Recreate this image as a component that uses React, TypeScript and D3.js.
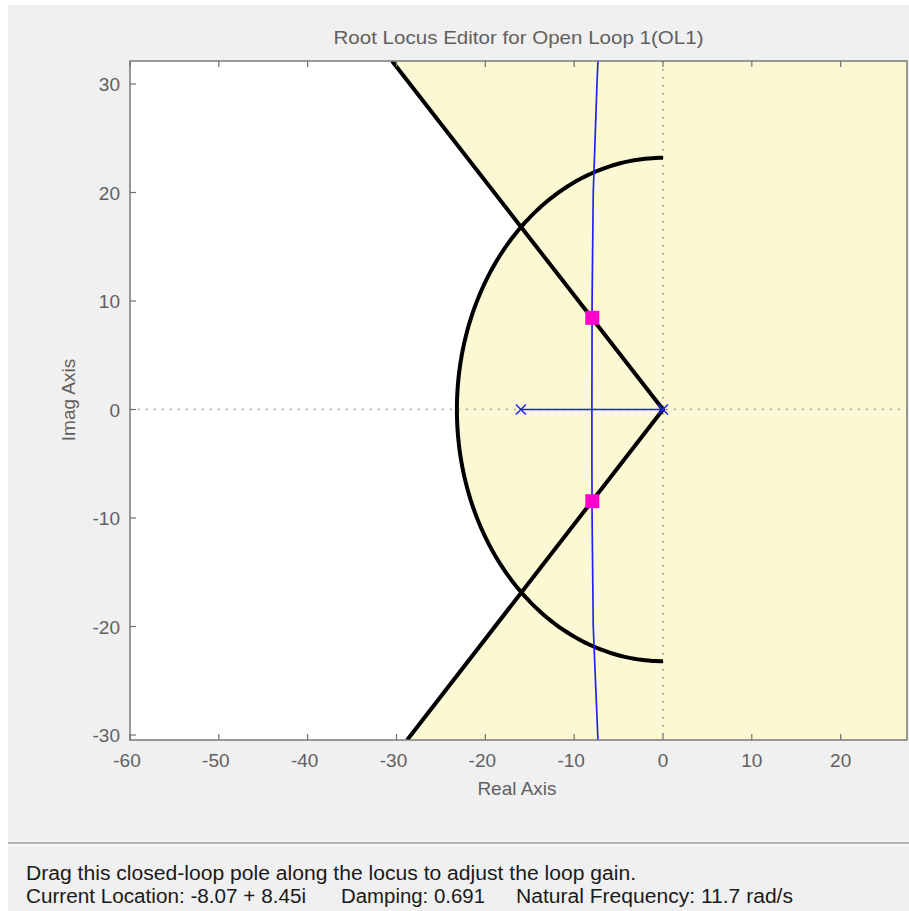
import React from "react";
import * as d3 from "d3";

// ---- data ----
const xTicks = [-60, -50, -40, -30, -20, -10, 0, 10, 20];
const yTicks = [30, 20, 10, 0, -10, -20, -30];
const xDomain = [-60, 27.47];
const yDomain = [-30.46, 32.12];
// design requirement: damping-ratio boundary (points on the locus of constant damping)
const dampingRe = [-30.5, 0, -28.8];
const dampingIm = [32.12, 0, -30.46];
// design requirement: natural frequency circle radius
const wnRadius = 23.2;
// open-loop poles
const olPolesRe = [0, -16];
// root locus branch (complex part)
const branchRe = [-7.32, -7.43, -7.85, -7.98, -8.0, -8.0, -7.98, -7.85, -7.6, -7.32];
const branchIm = [32.12, 30, 20, 10, 0, -5, -10, -20, -25, -30.46];
// current closed-loop poles
const clRe = [-8.07, -8.07];
const clIm = [8.45, -8.45];

const W = 909;
const H = 911;
const L = 130, R = 907, T = 61, B = 740;

export default function App() {
  const x = d3.scaleLinear().domain(xDomain).range([L, R]);
  const y = d3.scaleLinear().domain(yDomain).range([B, T]);
  const line = d3.line<[number, number]>().x((d) => x(d[0])).y((d) => y(d[1]));

  const dampPts: [number, number][] = dampingRe.map((r, i) => [r, dampingIm[i]]);
  const yellowPoly: [number, number][] = [
    dampPts[0],
    [xDomain[1], yDomain[1]],
    [xDomain[1], yDomain[0]],
    dampPts[2],
    dampPts[1],
  ];
  const rx = x(wnRadius) - x(0);
  const ry = y(0) - y(wnRadius);
  const arcPts: [number, number][] = d3
    .range(90, 270.01, 1)
    .map((a) => [wnRadius * Math.cos((a * Math.PI) / 180), wnRadius * Math.sin((a * Math.PI) / 180)]);
  const branchPts: [number, number][] = branchRe.map((r, i) => [r, branchIm[i]]);

  const tickColor = "#707070";
  const labelColor = "#606060";
  const font = "'Liberation Sans', Arial, sans-serif";
  const blue = "#2222f0";

  return (
    <div style={{ position: "absolute", left: 0, top: 0 }}>
      <svg width={W} height={H} style={{ display: "block" }}>
        <defs>
          <clipPath id="plotclip">
            <rect x={L} y={T} width={R - L} height={B - T} />
          </clipPath>
        </defs>
        <rect x={0} y={0} width={W} height={H} fill="#ffffff" />
        <rect x={8} y={5} width={W - 8} height={H - 5} fill="#f0f0f0" />
        {/* title */}
        <text x={(L + R) / 2} y={44} textAnchor="middle" fontFamily={font} fontSize={19} fill={labelColor} textLength={370} lengthAdjust="spacingAndGlyphs">
          Root Locus Editor for Open Loop 1(OL1)
        </text>
        {/* plot area */}
        <rect x={L} y={T} width={R - L} height={B - T} fill="#ffffff" />
        <g clipPath="url(#plotclip)">
          <path d={line(yellowPoly) + "Z"} fill="#fbf9d4" />
          <ellipse cx={x(0)} cy={y(0)} rx={rx} ry={ry} fill="#fbf9d4" />
          {/* dotted axes */}
          <line x1={L} x2={R} y1={y(0)} y2={y(0)} stroke="#8a8a8a" strokeWidth={1.6} strokeDasharray="1.6,6.4" />
          <line x1={x(0)} x2={x(0)} y1={T} y2={B} stroke="#8a8a8a" strokeWidth={1.6} strokeDasharray="1.6,6.4" />
          {/* design requirement lines */}
          <path d={line(dampPts) || ""} fill="none" stroke="#000" strokeWidth={4} strokeLinejoin="miter" />
          <path d={line(arcPts) || ""} fill="none" stroke="#000" strokeWidth={4} />
          {/* root locus */}
          <line x1={x(olPolesRe[1])} x2={x(olPolesRe[0])} y1={y(0)} y2={y(0)} stroke={blue} strokeWidth={1.5} />
          <path d={line(branchPts) || ""} fill="none" stroke={blue} strokeWidth={1.7} />
          {olPolesRe.map((p, i) => (
            <g key={i} transform={`translate(${x(p)},${y(0)})`} stroke={blue} strokeWidth={1.5}>
              <line x1={-5} y1={-5} x2={5} y2={5} />
              <line x1={-5} y1={5} x2={5} y2={-5} />
            </g>
          ))}
          {clRe.map((r, i) => (
            <rect key={i} x={x(r) - 6} y={y(clIm[i]) - 7} width={14} height={14} fill="#ff00cc" />
          ))}
        </g>
        {/* frame */}
        <rect x={L} y={T} width={R - L} height={B - T} fill="none" stroke="#7a7a7a" strokeWidth={1.5} />
        {/* x ticks */}
        {xTicks.map((t) => (
          <g key={"x" + t}>
            <line x1={x(t)} x2={x(t)} y1={B} y2={B - 6} stroke={tickColor} strokeWidth={1.2} />
            <line x1={x(t)} x2={x(t)} y1={T} y2={T + 6} stroke={tickColor} strokeWidth={1.2} />
            <text x={x(t) - (t < 0 ? 3 : 0)} y={767} textAnchor="middle" fontFamily={font} fontSize={19} fill={labelColor}>
              {t}
            </text>
          </g>
        ))}
        {yTicks.map((t) => (
          <g key={"y" + t}>
            <line x1={L} x2={L + 6} y1={y(t)} y2={y(t)} stroke={tickColor} strokeWidth={1.2} />
            <text x={120} y={y(t) + 7} textAnchor="end" fontFamily={font} fontSize={19} fill={labelColor}>
              {t}
            </text>
          </g>
        ))}
        <text x={517} y={795} textAnchor="middle" fontFamily={font} fontSize={19} fill={labelColor}>
          Real Axis
        </text>
        <text transform={`translate(75,400) rotate(-90)`} textAnchor="middle" fontFamily={font} fontSize={19} fill={labelColor}>
          Imag Axis
        </text>
        {/* status panel */}
        <line x1={8} x2={W} y1={843} y2={843} stroke="#a0a0a0" strokeWidth={1.5} />
        <line x1={8} x2={W} y1={845} y2={845} stroke="#ffffff" strokeWidth={1} />
        <text x={26} y={880} fontFamily={font} fontSize={20} fill="#1a1a1a" textLength={610} lengthAdjust="spacingAndGlyphs">
          Drag this closed-loop pole along the locus to adjust the loop gain.
        </text>
        <text x={26} y={903} fontFamily={font} fontSize={20} fill="#1a1a1a" textLength={280} lengthAdjust="spacingAndGlyphs">
          Current Location: -8.07 + 8.45i
        </text>
        <text x={341} y={903} fontFamily={font} fontSize={20} fill="#1a1a1a" textLength={144} lengthAdjust="spacingAndGlyphs">
          Damping: 0.691
        </text>
        <text x={516} y={903} fontFamily={font} fontSize={20} fill="#1a1a1a" textLength={277} lengthAdjust="spacingAndGlyphs">
          Natural Frequency: 11.7 rad/s
        </text>
      </svg>
    </div>
  );
}
